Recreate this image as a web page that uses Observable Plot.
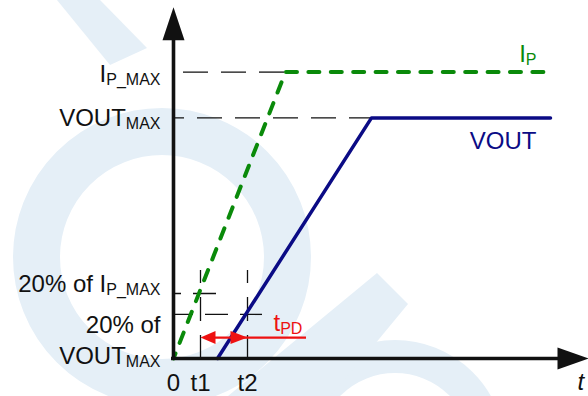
<!DOCTYPE html>
<html><head><meta charset="utf-8">
<script src="https://cdn.jsdelivr.net/npm/d3@7"></script>
<script src="https://cdn.jsdelivr.net/npm/@observablehq/plot@0.6"></script>
<style>
html,body{margin:0;padding:0;background:#fff;}
#wrap{position:relative;width:588px;height:396px;overflow:hidden;}
#wm{position:absolute;left:0;top:0;}
#chart{position:absolute;left:0;top:0;}
</style></head><body>
<div id="wrap"><svg id="wm" width="588" height="396"></svg><div id="chart"></div></div>
<script>
// ---- data: time in arbitrary units, levels in % of IP_MAX ----
const tickLabels = ["0", "t1", "t2"];
const tickTimes = [0, 2.7, 7.4];
const ipTimes = [0, 11.2, 37.7];
const ipLevels = [0, 100, 100];
const voutTimes = [4.4, 19.8, 37.7];
const voutLevels = [0, 84, 84];
const refNames = ["IP_MAX", "VOUT_MAX", "20% of IP_MAX", "20% of VOUT_MAX"];
const refLevels = [100, 84, 22.7, 15.4];
const refEnds = [11.2, 19.8, 4.4, 8.9];
const markerTop = 30.7;      // top of the t1 / t2 marker lines
const tpdLevel = 7.3;        // level of the tPD arrow
const tpdEnd = 13.3;         // end of the tPD underline
const axisEnds = [41.5, 122.6]; // time-axis tip, level-axis tip

// ---- watermark (background decoration) ----
(function () {
  const wm = d3.select("#wm");
  const c = "#e5eff7";
  wm.append("circle").attr("cx", 162).attr("cy", 257).attr("r", 125.5)
    .attr("fill", "none").attr("stroke", c).attr("stroke-width", 47);
  wm.append("circle").attr("cx", 395).attr("cy", 450).attr("r", 93.5)
    .attr("fill", "none").attr("stroke", c).attr("stroke-width", 33);
  wm.append("polygon").attr("points", "377,273 408,304 370,350 330,396 228,396").attr("fill", c);
  wm.append("polygon").attr("points", "57,0 100,0 147,48 110,65").attr("fill", c);
})();

// ---- tables ----
const ip = ipTimes.map((t, i) => ({t, v: ipLevels[i]}));
const vout = voutTimes.map((t, i) => ({t, v: voutLevels[i]}));
const refs = refNames.map((name, i) => ({name, v: refLevels[i], end: refEnds[i]}));
const ticks = tickLabels.map((label, i) => ({label, t: tickTimes[i]}));

const black = "#111";
const green = "#0a8a0a";
const navy = "#0b0b85";
const red = "#ee1111";

const triangle = (half) => ({
  draw(ctx, l) { ctx.moveTo(-half, 0); ctx.lineTo(0, -l); ctx.lineTo(half, 0); ctx.closePath(); }
});

const refRule = (r, dash, off) => Plot.ruleY([r], {
  y: "v", x1: 0, x2: "end", stroke: black, strokeWidth: 1.3,
  strokeDasharray: dash, strokeDashoffset: off
});

const label = (text, t, v, opts) =>
  Plot.text([{t, v, text}], {x: "t", y: "v", text: "text", lineAnchor: "bottom", fontSize: 24, fill: black, ...opts});

const chart = Plot.plot({
  width: 588, height: 396,
  marginLeft: 173, marginRight: 0, marginTop: 0, marginBottom: 38,
  x: {domain: [0, axisEnds[0]], axis: null},
  y: {domain: [0, 125], axis: null},
  style: {fontFamily: "'Liberation Sans', Arial, sans-serif", background: "transparent", overflow: "visible"},
  marks: [
    // dashed reference lines
    refRule(refs[0], "25,13", 28),
    refRule(refs[1], "25,13", 14),
    refRule(refs[2], "23,12", 15),
    refRule(refs[3], "23,12", 3),
    Plot.ruleX(ticks.slice(1), {x: "t", y1: markerTop, y2: 0, stroke: black, strokeWidth: 1.3, strokeDasharray: "24,14", strokeDashoffset: 11}),
    // signals
    Plot.line(ip, {x: "t", y: "v", stroke: green, strokeWidth: 4, strokeDasharray: "11,11.4", strokeDashoffset: 5.6, strokeLinecap: "round"}),
    Plot.line(vout, {x: "t", y: "v", stroke: navy, strokeWidth: 3.5}),
    // tPD arrow
    Plot.ruleY([{v: tpdLevel}], {y: "v", x1: tickTimes[1] + 0.5, x2: tpdEnd, stroke: red, strokeWidth: 2.3}),
    Plot.vector([{t: tickTimes[1], v: tpdLevel}], {x: "t", y: "v", length: 15, rotate: -90, anchor: "end", shape: triangle(6.5), fill: red, stroke: "none"}),
    Plot.vector([{t: tickTimes[2], v: tpdLevel}], {x: "t", y: "v", length: 17, rotate: 90, anchor: "end", shape: triangle(6.5), fill: red, stroke: "none"}),
    // axes
    Plot.ruleX([0], {y1: -0.6, y2: 112, stroke: black, strokeWidth: 3.6}),
    Plot.ruleY([0], {x1: -0.2, x2: 38.8, stroke: black, strokeWidth: 3.6}),
    Plot.vector([{t: 0, v: axisEnds[1]}], {x: "t", y: "v", length: 33, rotate: 0, anchor: "end", shape: triangle(11), fill: black, stroke: "none"}),
    Plot.vector([{t: axisEnds[0], v: 0}], {x: "t", y: "v", length: 31, rotate: 90, anchor: "end", shape: triangle(11), fill: black, stroke: "none"}),
    // labels
    label("I~P_MAX", 0, refLevels[0], {textAnchor: "end", dx: -13, dy: 10}),
    label("VOUT~MAX", 0, refLevels[1], {textAnchor: "end", dx: -13, dy: 8}),
    label("20% of I~P_MAX", 0, refLevels[2], {textAnchor: "end", dx: -13, dy: -1}),
    label("20% of", 0, refLevels[3], {textAnchor: "end", dx: -13, dy: 19}),
    label("VOUT~MAX", 0, 0, {textAnchor: "end", dx: -13, dy: 5}),
    Plot.text(ticks, {x: "t", y: 0, text: "label", lineAnchor: "bottom", dy: 32, fontSize: 24, fill: black, textAnchor: "middle"}),
    label("I~P", ipTimes[2], ipLevels[2], {textAnchor: "end", dx: -14, dy: -10, fill: green}),
    label("VOUT", voutTimes[2], voutLevels[2], {textAnchor: "end", dx: -14, dy: 31, fill: navy}),
    label("t~PD", tickTimes[2], tpdLevel, {textAnchor: "start", dx: 26, dy: -7, fill: red}),
    label("t", axisEnds[0], 0, {textAnchor: "start", dx: -11, dy: 31, fontStyle: "italic"})
  ]
});

// subscripts: text after "~" becomes a smaller, lowered tspan
chart.querySelectorAll("text").forEach(el => {
  const s = el.textContent;
  if (!s.includes("~")) return;
  const [main, sub] = s.split("~");
  el.textContent = main;
  const ts = document.createElementNS("http://www.w3.org/2000/svg", "tspan");
  ts.setAttribute("font-size", "16");
  ts.setAttribute("dy", "3");
  ts.textContent = sub;
  el.appendChild(ts);
});

document.getElementById("chart").appendChild(chart);
</script>
</body></html>
